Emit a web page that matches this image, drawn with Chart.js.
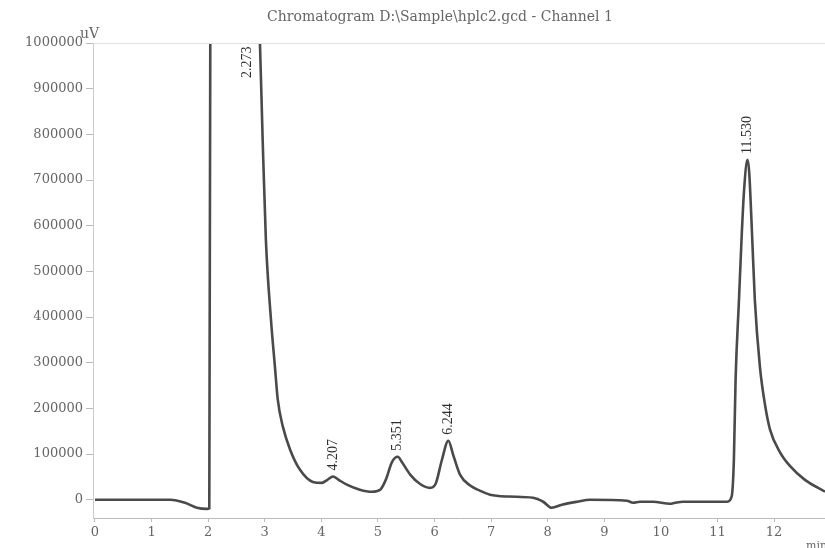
<!DOCTYPE html>
<html>
<head>
<meta charset="utf-8">
<script src="https://cdn.jsdelivr.net/npm/chart.js@4/dist/chart.umd.min.js"></script>
<style>
  html, body { margin: 0; padding: 0; background: #ffffff; }
  #wrap { width: 825px; height: 548px; position: relative; }
</style>
</head>
<body>
<div id="wrap"><canvas id="c" width="825" height="548"></canvas></div>
<script>
// ---- data ----
const titleText = "Chromatogram D:\\Sample\\hplc2.gcd - Channel 1";
const yUnit = "uV";
const xUnit = "min";

// retention time (min)
const times = [
  0.00, 0.80, 1.33, 1.59, 1.80, 1.98, 2.02, 2.04, 2.273, 2.88,
  2.915, 2.963, 3.02, 3.11, 3.18, 3.23, 3.32, 3.45, 3.62, 3.85,
  4.01, 4.10, 4.207, 4.30, 4.45, 4.68, 4.89, 5.04, 5.14, 5.25,
  5.351, 5.42, 5.57, 5.74, 5.92, 6.02, 6.13, 6.244, 6.33, 6.45,
  6.63, 6.80, 6.98, 7.30, 7.74, 7.92, 8.07, 8.25, 8.52, 8.75,
  9.40, 9.51, 9.63, 9.86, 10.16, 10.25, 10.39, 10.80, 11.17, 11.25,
  11.29, 11.32, 11.38, 11.43, 11.47, 11.53, 11.56, 11.61, 11.66, 11.75,
  11.84, 11.93, 12.10, 12.28, 12.54, 12.90
];
// detector signal (uV)
const signal = [
  0, 0, 0, -6600, -17500, -20000, -19000, 1150000, 1400000, 1100000,
  1000000, 788000, 569000, 394000, 291000, 219000, 160000, 109000, 66000, 39000,
  37000, 43000, 51000, 44000, 33000, 22000, 17500, 22000, 44000, 83000,
  94000, 83000, 55000, 35000, 26000, 35000, 87000, 129000, 98000, 55000,
  31000, 20000, 11000, 7000, 4400, -4400, -17500, -11000, -4400, 0,
  -2200, -6600, -4400, -4400, -8800, -6600, -4400, -4400, -4400, 6600,
  88000, 263000, 438000, 584000, 678000, 744000, 718000, 584000, 438000, 291000,
  208000, 153000, 105000, 74000, 44000, 17500
];

// labelled peaks
const peakTimes  = [2.273, 4.207, 5.351, 6.244, 11.530];
const peakLabels = ["2.273", "4.207", "5.351", "6.244", "11.530"];
const peakHeights = [1400000, 51000, 94000, 129000, 744000];

// axis ticks
const xTicks = [0, 1, 2, 3, 4, 5, 6, 7, 8, 9, 10, 11, 12];
const yTicks = [0, 100000, 200000, 300000, 400000, 500000, 600000, 700000, 800000, 900000, 1000000];

const points = times.map((t, i) => ({ x: t, y: signal[i] }));

const annotPlugin = {
  id: 'annot',
  afterDatasetsDraw(chart) {
    const { ctx, chartArea, scales } = chart;
    const xs = scales.x, ys = scales.y;
    ctx.save();
    // faint top border
    ctx.strokeStyle = '#e2e2e2';
    ctx.lineWidth = 1;
    ctx.beginPath();
    ctx.moveTo(chartArea.left, chartArea.top + 0.5);
    ctx.lineTo(chartArea.right, chartArea.top + 0.5);
    ctx.stroke();
    // peak labels (rotated)
    ctx.fillStyle = '#2e2e2e';
    ctx.font = '14px "Liberation Serif", serif';
    ctx.textBaseline = 'middle';
    ctx.textAlign = 'left';
    peakTimes.forEach((t, i) => {
      let px = xs.getPixelForValue(t);
      let py;
      if (peakHeights[i] > ys.max) {
        px = xs.getPixelForValue(t) + 24;
        py = chartArea.top + 35;
      } else {
        py = ys.getPixelForValue(peakHeights[i]) - 6;
      }
      ctx.save();
      ctx.translate(px, py);
      ctx.rotate(-Math.PI / 2);
      ctx.fillText(peakLabels[i], 0, 0);
      ctx.restore();
    });
    // title
    ctx.fillStyle = '#666666';
    ctx.font = '14px "DejaVu Serif", serif';
    ctx.textAlign = 'center';
    ctx.fillText(titleText, 440, 17);
    // units
    ctx.font = '14px "DejaVu Serif", serif';
    ctx.textAlign = 'left';
    ctx.fillText(yUnit, 80, 34);
    ctx.font = '11px "DejaVu Serif", serif';
    ctx.fillText(xUnit, 806, 546);
    ctx.restore();
  }
};

new Chart(document.getElementById('c'), {
  type: 'line',
  data: {
    datasets: [{
      data: points,
      borderColor: '#4a4a4a',
      borderWidth: 2.6,
      pointRadius: 0,
      cubicInterpolationMode: 'monotone',
      fill: false
    }]
  },
  options: {
    responsive: false,
    animation: false,
    devicePixelRatio: 1,
    layout: { padding: { top: 43, right: 0, bottom: 0, left: 0 } },
    plugins: { legend: { display: false }, tooltip: { enabled: false }, title: { display: false } },
    scales: {
      x: {
        type: 'linear',
        min: -0.035,
        max: 12.9,
        afterBuildTicks: (s) => { s.ticks = xTicks.map(v => ({ value: v })); },
        afterFit: (s) => { s.height = 30; },
        grid: { drawOnChartArea: false, drawTicks: true, tickLength: 4, color: '#bbbbbb' },
        border: { display: true, color: '#bbbbbb', dash: [2, 3], width: 1 },
        ticks: { color: '#666666', font: { family: '"DejaVu Serif", serif', size: 13 }, padding: 3, maxRotation: 0, autoSkip: false }
      },
      y: {
        type: 'linear',
        min: -40000,
        max: 1000000,
        afterBuildTicks: (s) => { s.ticks = yTicks.map(v => ({ value: v })); },
        afterFit: (s) => { s.width = 93; },
        grid: { drawOnChartArea: false, drawTicks: true, tickLength: 7, color: '#bbbbbb' },
        border: { display: true, color: '#cccccc', width: 1 },
        ticks: { color: '#666666', font: { family: '"DejaVu Serif", serif', size: 13 }, padding: 3, callback: (v) => String(v) }
      }
    }
  },
  plugins: [annotPlugin]
});
</script>
</body>
</html>
